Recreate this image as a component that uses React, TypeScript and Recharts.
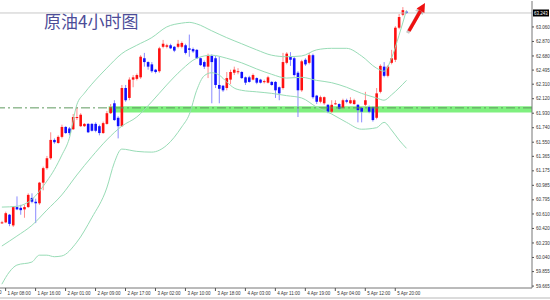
import {
  ComposedChart,
  Bar,
  Line,
  XAxis,
  YAxis,
  ReferenceLine,
  ReferenceArea,
} from 'recharts'

// hourly candles (1 Apr 07:00 .. 5 Apr 23:00)
const opens = [
  60.49, 60.5, 60.6, 60.46, 60.7, 60.69, 60.67, 60.7, 60.82, 60.77,
  60.75, 61.02, 61.21, 61.34, 61.58, 61.54, 61.62, 61.75, 61.73, 61.72,
  61.87, 61.76, 61.76, 61.79, 61.79, 61.79, 61.76, 61.67, 61.79, 61.93,
  62.06, 61.87, 61.76, 62.26, 62.13, 62.37, 62.38, 62.4, 62.65, 62.6,
  62.57, 62.5, 62.48, 62.8, 62.8, 62.82, 62.8, 62.8, 62.8, 62.82,
  62.78, 62.77, 62.76, 62.65, 62.6, 62.54, 62.68, 62.65, 62.3, 62.29,
  62.26, 62.37, 62.46, 62.47, 62.47, 62.4, 62.4, 62.37, 62.39, 62.37,
  62.34, 62.33, 62.34, 62.34, 62.27, 62.26, 62.59, 62.67, 62.65, 62.46,
  62.23, 62.63, 62.59, 62.69, 62.16, 62.08, 62.06, 62.04, 61.95, 62.05,
  62.05, 62.0, 62.1, 62.06, 62.05, 62.04, 62.0, 62.04, 62.01, 62.01,
  61.87, 62.21, 62.54, 62.42, 62.59, 62.63, 63.05, 63.22, 63.26,
]
const highs = [
  60.52, 60.64, 60.61, 60.71, 60.84, 60.73, 60.73, 60.88, 60.88, 60.81,
  61.03, 61.23, 61.37, 61.68, 61.6, 61.64, 61.78, 61.76, 61.75, 61.92,
  62.01, 61.93, 61.8, 61.8, 61.8, 61.81, 61.78, 61.82, 61.96, 62.05,
  62.1, 61.89, 62.3, 62.3, 62.4, 62.43, 62.45, 62.69, 62.72, 62.61,
  62.6, 62.51, 62.8, 62.89, 62.84, 62.84, 62.81, 62.89, 62.87, 62.84,
  62.96, 62.79, 62.77, 62.66, 62.62, 62.71, 62.7, 62.68, 62.67, 62.3,
  62.47, 62.5, 62.54, 62.52, 62.48, 62.41, 62.42, 62.45, 62.4, 62.38,
  62.37, 62.42, 62.35, 62.35, 62.28, 62.72, 62.73, 62.73, 62.67, 62.48,
  62.63, 62.65, 62.72, 62.71, 62.17, 62.16, 62.15, 62.05, 62.1, 62.1,
  62.06, 62.12, 62.12, 62.14, 62.12, 62.05, 62.01, 62.21, 62.03, 62.02,
  62.26, 62.57, 62.6, 62.56, 62.76, 63.07, 63.23, 63.32, 63.27,
]
const lows = [
  60.48, 60.49, 60.45, 60.44, 60.66, 60.6, 60.56, 60.69, 60.75, 60.49,
  60.73, 60.92, 61.19, 61.32, 61.53, 61.53, 61.6, 61.66, 61.64, 61.71,
  61.84, 61.75, 61.75, 61.67, 61.69, 61.68, 61.64, 61.66, 61.78, 61.92,
  61.83, 61.6, 61.75, 62.08, 62.1, 62.27, 62.36, 62.38, 62.54, 62.5,
  62.46, 62.45, 62.46, 62.78, 62.78, 62.77, 62.73, 62.78, 62.78, 62.7,
  62.67, 62.72, 62.64, 62.55, 62.51, 62.39, 62.06, 62.26, 62.06, 62.21,
  62.23, 62.31, 62.43, 62.44, 62.38, 62.3, 62.33, 62.36, 62.31, 62.32,
  62.32, 62.32, 62.29, 62.13, 62.1, 62.24, 62.57, 62.55, 62.41, 61.88,
  62.21, 62.55, 62.57, 62.12, 62.05, 62.06, 62.04, 61.93, 61.93, 62.04,
  61.97, 61.98, 62.06, 62.05, 62.04, 61.81, 61.81, 62.02, 61.93, 61.82,
  61.85, 62.19, 62.4, 62.4, 62.57, 62.6, 63.03, 63.2, 63.23,
]
const closes = [
  60.5, 60.62, 60.48, 60.7, 60.67, 60.66, 60.7, 60.86, 60.77, 60.75,
  61.02, 61.21, 61.34, 61.58, 61.55, 61.62, 61.75, 61.67, 61.67, 61.88,
  61.88, 61.91, 61.79, 61.68, 61.7, 61.7, 61.67, 61.8, 61.93, 62.01,
  61.84, 61.76, 62.26, 62.1, 62.37, 62.4, 62.43, 62.67, 62.6, 62.54,
  62.48, 62.47, 62.78, 62.84, 62.82, 62.78, 62.75, 62.84, 62.85, 62.72,
  62.76, 62.74, 62.65, 62.56, 62.54, 62.68, 62.6, 62.3, 62.25, 62.23,
  62.39, 62.47, 62.5, 62.48, 62.39, 62.33, 62.34, 62.43, 62.33, 62.33,
  62.35, 62.4, 62.3, 62.23, 62.19, 62.6, 62.71, 62.63, 62.43, 62.23,
  62.61, 62.57, 62.69, 62.14, 62.08, 62.14, 62.14, 61.95, 62.04, 62.06,
  61.99, 62.1, 62.08, 62.1, 62.1, 61.97, 61.95, 62.1, 61.95, 61.84,
  62.19, 62.55, 62.42, 62.54, 62.65, 63.05, 63.19, 63.28, 63.243,
]

// Bollinger bands, [bar, price] read at every few bars
const bbUpper: [number, number][] = [
  [0, 60.7], [4, 60.71], [8, 60.8], [12, 61.04], [14, 61.19], [16, 61.38],
  [18, 61.6], [20, 62.04], [22, 62.19], [24, 62.31], [28, 62.52], [32, 62.71],
  [36, 62.82], [40, 62.92], [44, 63.06], [48, 63.11], [50, 63.12], [52, 63.1],
  [56, 63.01], [60, 62.92], [64, 62.84], [68, 62.76], [72, 62.69], [76, 62.67],
  [80, 62.68], [84, 62.76], [88, 62.78], [92, 62.78], [96, 62.68], [100, 62.52],
  [102, 62.48], [104, 62.65], [106, 62.95], [108, 63.28],
]
const bbMiddle: [number, number][] = [
  [0, 60.19], [4, 60.32], [8, 60.46], [12, 60.66], [16, 60.86], [20, 61.12],
  [24, 61.36], [28, 61.58], [32, 61.76], [36, 61.88], [40, 62.08], [44, 62.3],
  [48, 62.5], [52, 62.65], [56, 62.69], [60, 62.65], [64, 62.59], [68, 62.51],
  [72, 62.44], [76, 62.39], [80, 62.4], [84, 62.36], [88, 62.33], [92, 62.27],
  [96, 62.19], [100, 62.13], [102, 62.1], [104, 62.17], [106, 62.26], [108, 62.36],
]
const bbLower: [number, number][] = [
  [0, 59.69], [2, 59.85], [4, 59.94], [8, 59.98], [10, 60.07], [12, 60.07],
  [14, 60.05], [16, 60.06], [20, 60.24], [24, 60.56], [28, 60.95], [30, 61.28],
  [32, 61.46], [36, 61.43], [40, 61.42], [44, 61.51], [48, 61.75], [50, 61.91],
  [52, 62.23], [54, 62.42], [56, 62.46], [58, 62.43], [60, 62.34], [62, 62.26],
  [64, 62.23], [68, 62.21], [72, 62.19], [76, 62.16], [80, 62.13], [84, 62.01],
  [88, 61.92], [92, 61.81], [96, 61.72], [100, 61.74], [102, 61.81], [104, 61.71],
  [106, 61.58], [108, 61.47],
]

const tickBars = [1, 9, 17, 25, 33, 41, 49, 57, 65, 73, 81, 89, 97, 105]
const timeLabels = [
  '1 Apr 08:00', '1 Apr 16:00', '2 Apr 01:00', '2 Apr 09:00', '2 Apr 17:00',
  '3 Apr 02:00', '3 Apr 10:00', '3 Apr 18:00', '4 Apr 03:00', '4 Apr 11:00',
  '4 Apr 19:00', '5 Apr 04:00', '5 Apr 12:00', '5 Apr 20:00',
]
const priceTicks = [
  63.06, 62.87, 62.68, 62.495, 62.31, 62.12, 61.93, 61.74, 61.55, 61.365,
  61.175, 60.985, 60.795, 60.61, 60.42, 60.23, 60.04, 59.855, 59.665,
]
const lastPrice = 63.243
const zoneLow = 61.94
const zoneHigh = 62.02
const zoneLine = 62.0
const zoneStartBar = 29
const SLOTS = 142 // chart shift leaves empty room on the right

const upMap = new Map(bbUpper)
const midMap = new Map(bbMiddle)
const lowMap = new Map(bbLower)

const data = Array.from({ length: SLOTS }, (_, i) => ({
  i,
  hl: i < opens.length ? [lows[i], highs[i]] : null,
  o: opens[i],
  h: highs[i],
  l: lows[i],
  c: closes[i],
  bu: upMap.get(i) ?? null,
  bm: midMap.get(i) ?? null,
  bl: lowMap.get(i) ?? null,
}))

const AXIS_FONT = "'Liberation Sans', Arial, sans-serif"

function Candle(props: any) {
  const { x, y, width, height, payload } = props
  if (!payload || payload.o == null) return <g />
  const { o, h, l, c } = payload
  const k = h > l ? height / (h - l) : 0
  const cx = x + width / 2
  const yO = y + (h - o) * k
  const yC = y + (h - c) * k
  const bull = c >= o
  const top = Math.min(yO, yC)
  const bh = Math.max(1, Math.abs(yO - yC))
  return (
    <g>
      <line
        x1={cx}
        x2={cx}
        y1={y}
        y2={y + height}
        stroke={bull ? '#ff8a8a' : '#8a8aff'}
        strokeWidth={1}
      />
      <rect x={cx - 1.3} y={top} width={2.6} height={bh} fill={bull ? '#ff1010' : '#1010ff'} />
    </g>
  )
}

function TimeTick({ x, y, payload }: any) {
  const k = tickBars.indexOf(payload.value)
  if (k < 0) return <g />
  return (
    <g>
      <line x1={x} x2={x} y1={y - 2} y2={y + 1} stroke="#555" />
      <text x={x + 2} y={y + 5} fontSize={4.5} fill="#333" fontFamily={AXIS_FONT}>
        {timeLabels[k]}
      </text>
    </g>
  )
}

function PriceTag({ viewBox }: any) {
  const { x, y, width } = viewBox
  const left = x + width + 1
  return (
    <g>
      <rect x={left} y={y - 3.5} width={16} height={7} fill="#000" />
      <text x={left + 1} y={y + 1.8} fontSize={4.5} fill="#fff" fontFamily={AXIS_FONT}>
        {lastPrice.toFixed(3)}
      </text>
    </g>
  )
}

export default function App() {
  return (
    <div style={{ position: 'absolute', left: 0, top: 0, width: 550, height: 300, background: '#fff' }}>
      <ComposedChart
        width={550}
        height={300}
        data={data}
        margin={{ top: 1, right: 0, bottom: 0, left: 0 }}
        barCategoryGap={0}
      >
        <ReferenceArea
          x1={zoneStartBar}
          x2={SLOTS - 1}
          y1={zoneLow}
          y2={zoneHigh}
          fill="#7ff07f"
          fillOpacity={1}
          stroke="none"
        />
        <ReferenceLine y={lastPrice} stroke="#c8c8c8" label={<PriceTag />} />
        <ReferenceLine y={zoneLine} stroke="#5f9a5f" strokeDasharray="9 3 2 3" />
        <XAxis
          dataKey="i"
          type="category"
          interval={0}
          tick={<TimeTick />}
          tickLine={false}
          tickSize={0}
          axisLine={{ stroke: '#777' }}
          height={12}
        />
        <YAxis
          orientation="right"
          type="number"
          domain={[59.64, 63.4]}
          allowDataOverflow
          ticks={priceTicks}
          tickFormatter={(v: number) => v.toFixed(3)}
          tick={{ fontSize: 4.5, fill: '#333', fontFamily: AXIS_FONT }}
          tickSize={2}
          tickMargin={2}
          tickLine={{ stroke: '#555' }}
          axisLine={{ stroke: '#777' }}
          width={18}
        />
        <Bar dataKey="hl" shape={<Candle />} isAnimationActive={false} />
        <Line type="monotone" dataKey="bu" stroke="#98dcb6" dot={false} connectNulls isAnimationActive={false} />
        <Line type="monotone" dataKey="bm" stroke="#98dcb6" dot={false} connectNulls isAnimationActive={false} />
        <Line type="monotone" dataKey="bl" stroke="#98dcb6" dot={false} connectNulls isAnimationActive={false} />
      </ComposedChart>
      <svg
        width={550}
        height={300}
        style={{ position: 'absolute', left: 0, top: 0, pointerEvents: 'none' }}
      >
        <text
          x={44}
          y={28}
          fontSize={17}
          fill="#4d4d98"
          fontFamily="'Noto Sans CJK SC', sans-serif"
        >
          原油4小时图
        </text>
        <text x={-1} y={294} fontSize={4.5} fill="#333" fontFamily={AXIS_FONT}>
          0
        </text>
        <g transform="translate(-1.5, 2)" opacity={0.45}>
          <line x1={409} y1={31} x2={420.5} y2={10.8} stroke="#888" strokeWidth={3.5} />
          <polygon points="425,3 424.4,13.05 416.6,8.55" fill="#888" />
        </g>
        <line x1={409} y1={31} x2={420.5} y2={10.8} stroke="#ee1111" strokeWidth={3.5} />
        <polygon points="425,3 424.4,13.05 416.6,8.55" fill="#ee1111" />
        <line x1={0} y1={298} x2={550} y2={298} stroke="#b8b8b8" />
      </svg>
    </div>
  )
}
